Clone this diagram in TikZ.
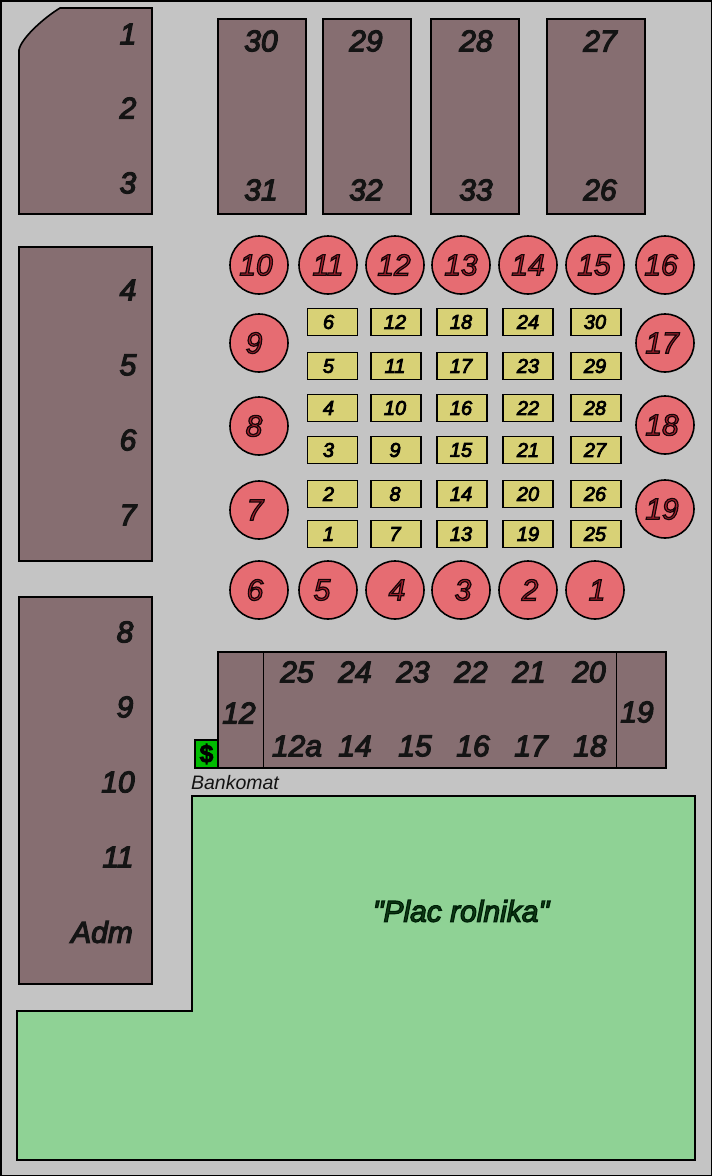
\documentclass[tikz,border=0pt]{standalone}
\usepackage{fontspec}
\newfontfamily\labfont[FakeBold=4]{Liberation Sans Italic}
\newfontfamily\kioskfont[FakeBold=4]{Liberation Sans Italic}
\newfontfamily\plainfont{Liberation Sans}
\newfontfamily\dollarfont[FakeBold=3]{Liberation Sans Bold}
\definecolor{bg}{HTML}{C4C4C4}
\definecolor{stall}{HTML}{866E71}
\definecolor{disc}{HTML}{E66C72}
\definecolor{kiosk}{HTML}{D8D176}
\definecolor{plac}{HTML}{8FD295}
\definecolor{atm}{HTML}{00BC00}
\definecolor{ink}{HTML}{141414}
\definecolor{redink}{HTML}{A8202E}
\definecolor{greenink}{HTML}{0E3A14}
\newcommand\strokeink[1]{\special{pdf:code #1 RG}}
\newcommand\nudge[2]{\kern#1pt #2\kern-#1pt}
\tikzset{
  x=1pt,y=-1pt,
  outl/.style={draw=black,line width=1.6pt,line join=miter},
  stallbox/.style={outl,fill=stall},
  discn/.style={circle,draw=black,line width=1.6pt,fill=disc,minimum size=58pt,inner sep=0pt,
    font=\fontsize{30}{30}\labfont,text=redink},
  kioskn/.style={rectangle,draw=black,line width=1.6pt,fill=kiosk,minimum width=50pt,minimum height=27pt,inner sep=0pt,
    font=\fontsize{20}{20}\kioskfont,text=black},
  biglab/.style={inner sep=0pt,font=\fontsize{30}{30}\labfont,text=ink},
}
\begin{document}
\begin{tikzpicture}
\useasboundingbox (0,0) rectangle (712,1176);
\fill[bg] (0,0) rectangle (712,1176);
\draw[black,line width=2pt] (0.5,1) -- (711.5,1) -- (711.5,1175.5) -- (0.5,1175.5) -- cycle;
% market halls
\draw[stallbox] (60,8) -- (152,8) -- (152,214) -- (19,214) -- (19,50) .. controls (21,38) and (45,17) .. (60,8) -- cycle;
\draw[stallbox] (218,19) rectangle (306,214);
\draw[stallbox] (323,19) rectangle (411,214);
\draw[stallbox] (431,19) rectangle (519,214);
\draw[stallbox] (547,19) rectangle (645,214);
\draw[stallbox] (19,247) rectangle (152,561);
\draw[stallbox] (19,597) rectangle (152,984);
\draw[stallbox] (218,652) rectangle (666,768);
\draw[black,line width=1pt] (263,652) -- (263,768);
\draw[black,line width=1pt] (616,652) -- (616,768);
% farmer square
\draw[outl,line width=1.2pt,fill=plac] (192,796) -- (695,796) -- (695,1160) -- (17,1160) -- (17,1011) -- (192,1011) -- cycle;
% cash machine
\node[draw=black,line width=1.6pt,fill=atm,minimum width=23pt,minimum height=28pt,inner sep=0pt,
  font=\fontsize{25}{25}\dollarfont,text=black] (atmbox) at (206.5,754) {\$};
\node[inner sep=0pt,font=\fontsize{19.5}{20}\plainfont\itshape,text=ink] (atmlab) at (235,783) {Bankomat};
\node[inner sep=0pt,font=\fontsize{30}{30}\labfont,text=greenink] (plaza) at (461,911) {\strokeink{0 0.12 0.03}"Plac rolnika"};
% hall labels
\foreach \t/\x/\y in {1/128/34,2/128/108,3/128/183,4/128/290,5/128/365,6/128/440,7/128/515,
  8/125/632,9/125/707,10/118/782,11/118/857,Adm/102/932,
  30/261/41,31/261/190,29/366/41,32/366/190,28/476/41,33/476/190,27/600/41,26/600/190,
  25/297/672,24/355/672,23/413/672,22/471/672,21/529/672,20/589/672,
  12a/297/746,14/355/746,15/415/746,16/473/746,17/531/746,18/590/746,
  12/239/713,19/637/712}
  \node[biglab] (h\x-\y) at (\x,\y) {\t};
% round stalls: label, centre and the sideways offset of the label
\foreach \t/\x/\y/\d in {10/259/265/-3,11/328/265/0,12/395/265/-1,13/461/265/0,14/528/265/0,15/595/265/-1,16/665/265/-4,
  9/259/343/-5,8/259/426/-5,7/259/510/-4,6/259/590/-4,5/328/590/-6,4/395/590/2,3/461/590/2,2/528/590/2,1/595/590/2,
  17/665/343/-3,18/665/425/-3,19/665/509/-3}
  \node[discn] (d\t) at (\x,\y) {\strokeink{0.08 0.02 0.03}\nudge{\d}{\t}};
% kiosks
\foreach \t/\x/\y/\d in {6/332.5/322/-4,5/332.5/366/-4,4/332.5/408/-4,3/332.5/450/-4,2/332.5/494/-4,1/332.5/534/-4,
  12/396/322/-1,11/396/366/-1,10/396/408/-1,9/396/450/-1,8/396/494/-1,7/396/534/-1,
  18/462/322/-1,17/462/366/-1,16/462/408/-1,15/462/450/-1,14/462/494/-1,13/462/534/-1,
  24/528/322/0,23/528/366/0,22/528/408/0,21/528/450/0,20/528/494/0,19/528/534/0,
  30/596/322/-1,29/596/366/-1,28/596/408/-1,27/596/450/-1,26/596/494/-1,25/596/534/-1}
  \node[kioskn] (k\t) at (\x,\y) {\nudge{\d}{\t}};
\end{tikzpicture}
\end{document}
